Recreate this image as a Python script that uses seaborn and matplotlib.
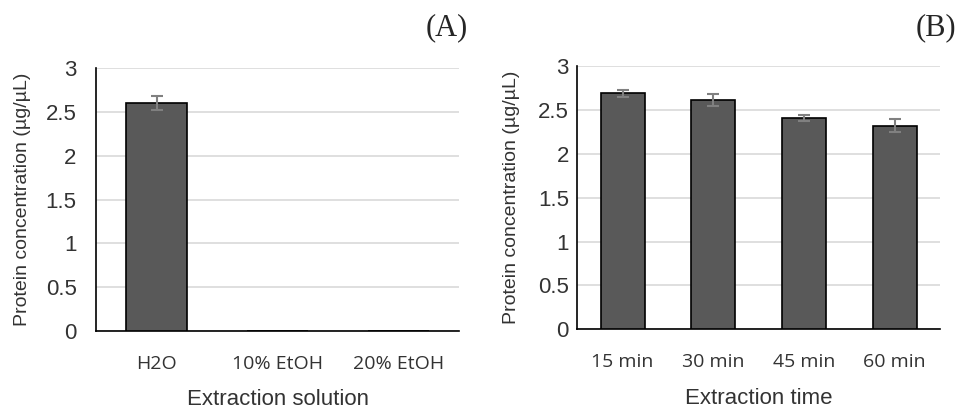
import matplotlib
matplotlib.use("Agg")
import matplotlib.pyplot as plt
import seaborn as sns
import pandas as pd
import numpy as np

# Panel A data
solutions = ["H2O", "10% EtOH", "20% EtOH"]
conc_solution = [2.60, 0.0, 0.0]
err_solution = [0.08, 0.0, 0.0]

# Panel B data
times = ["15 min", "30 min", "45 min", "60 min"]
conc_time = [2.69, 2.61, 2.41, 2.32]
err_time = [0.04, 0.065, 0.035, 0.075]

sns.set_style("white")
plt.rcParams["font.family"] = ["Liberation Sans", "DejaVu Sans"]

fig = plt.figure(figsize=(9.58, 4.09), dpi=100)
ax_a = fig.add_axes([0.1002, 0.1907, 0.379, 0.643])
ax_b = fig.add_axes([0.6026, 0.1949, 0.3786, 0.6438])

bar_color = "#595959"
grid_color = "#d9d9d9"


def draw_panel(ax, cats, vals, errs, xlabel, ypad, width):
    df = pd.DataFrame({"cat": cats, "val": vals})
    sns.barplot(data=df, x="cat", y="val", order=cats, color=bar_color,
                edgecolor="black", linewidth=1.2, width=width,
                saturation=1, errorbar=None, ax=ax, zorder=3)
    vals_arr = np.array(vals)
    errs_arr = np.array(errs)
    mask = vals_arr > 0
    xpos = np.arange(len(cats))[mask]
    ax.errorbar(xpos, vals_arr[mask], yerr=errs_arr[mask], fmt="none",
                ecolor="#808080", elinewidth=1.5, capsize=4, capthick=1.5,
                zorder=4)
    ax.set_ylim(0, 3)
    ax.set_xlim(-0.5, len(cats) - 0.5)
    ax.set_yticks([0, 0.5, 1, 1.5, 2, 2.5, 3])
    ax.set_yticklabels(["0", "0.5", "1", "1.5", "2", "2.5", "3"])
    ax.yaxis.grid(True, color=grid_color, linewidth=1.2, zorder=0)
    ax.set_axisbelow(True)
    for s in ["top", "right"]:
        ax.spines[s].set_visible(False)
    ax.spines["left"].set_color("black")
    ax.spines["bottom"].set_color("black")
    ax.spines["left"].set_linewidth(1.2)
    ax.spines["bottom"].set_linewidth(1.2)
    ax.tick_params(axis="y", length=0, pad=ypad, labelsize=16, labelcolor="#333333")
    ax.tick_params(axis="x", length=0, pad=17, labelsize=14, labelcolor="#333333")
    for lab in ax.get_xticklabels():
        lab.set_fontfamily(["Open Sans", "DejaVu Sans"])
    ax.set_xlabel(xlabel, fontsize=16, color="#333333", labelpad=12)
    ax.set_ylabel("Protein concentration (µg/µL)", fontsize=14, color="#333333")


draw_panel(ax_a, solutions, conc_solution, err_solution,
           "Extraction solution", ypad=14, width=0.51)
draw_panel(ax_b, times, conc_time, err_time,
           "Extraction time", ypad=6, width=0.485)

ax_a.yaxis.set_label_coords(-0.18, 0.5)
ax_b.yaxis.set_label_coords(-0.157, 0.5)

fig.text(447 / 958, 1 - 28 / 409, "(A)", fontsize=22, ha="center", va="center",
         fontfamily="Liberation Serif")
fig.text(936 / 958, 1 - 28 / 409, "(B)", fontsize=22, ha="center", va="center",
         fontfamily="Liberation Serif")

fig.savefig("out.png", dpi=100, facecolor="white")
